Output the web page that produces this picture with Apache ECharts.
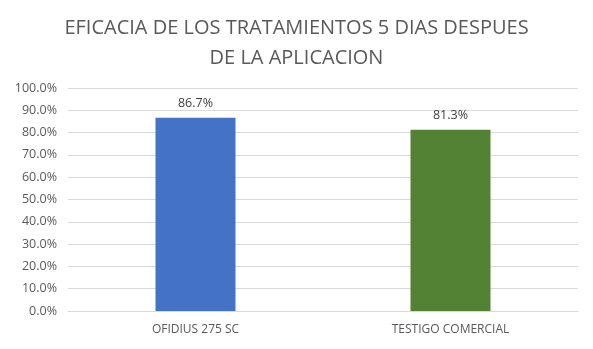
<!DOCTYPE html>
<html><head><meta charset="utf-8">
<script src="https://cdn.jsdelivr.net/npm/echarts@6/dist/echarts.min.js"></script>
<style>html,body{margin:0;padding:0;background:#fff}#c{width:593px;height:349px}</style>
</head><body><div id="c"></div>
<script>
const categories = ['OFIDIUS 275 SC', 'TESTIGO COMERCIAL'];
const values = [86.7, 81.3];
const colors = ['#4472C4', '#548235'];
const titleText = 'EFICACIA DE LOS TRATAMIENTOS 5 DIAS DESPUES\nDE LA APLICACION';

const chart = echarts.init(document.getElementById('c'));
chart.setOption({
  animation: false,
  title: {
    text: titleText, left: 'center', top: 8,
    textStyle: {fontFamily: 'Open Sans', fontSize: 20, fontWeight: 'normal', color: '#595959', lineHeight: 30}
  },
  grid: {left: 68, right: 15, top: 88, bottom: 38},
  xAxis: {
    type: 'category', data: categories,
    axisLine: {lineStyle: {color: '#D9D9D9'}},
    axisTick: {show: false},
    axisLabel: {color: '#595959', fontFamily: 'Open Sans', fontSize: 12, margin: 13}
  },
  yAxis: {
    type: 'value', min: 0, max: 100, interval: 10,
    axisLine: {show: false}, axisTick: {show: false},
    splitLine: {lineStyle: {color: '#D9D9D9'}},
    axisLabel: {color: '#595959', fontFamily: 'Open Sans', fontSize: 12.5, margin: 11,
      formatter: v => v.toFixed(1) + '%'}
  },
  series: [{
    type: 'bar', barWidth: 80,
    data: values.map((v, i) => ({value: v, itemStyle: {color: colors[i]}})),
    label: {show: true, position: 'top', distance: 8, color: '#404040', fontFamily: 'Open Sans', fontSize: 12.5,
      formatter: p => p.value.toFixed(1) + '%'}
  }]
});
</script></body></html>
